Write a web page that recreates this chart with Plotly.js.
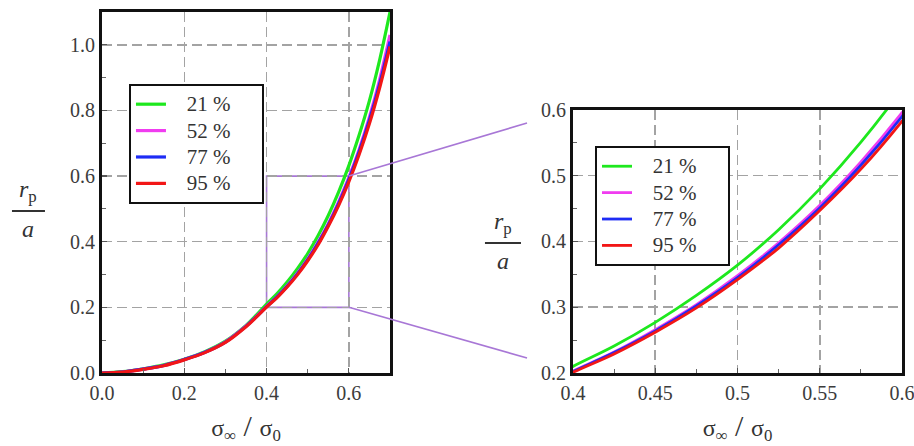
<!DOCTYPE html>
<html><head><meta charset="utf-8">
<script src="https://cdn.plot.ly/plotly-3.0.1.min.js"></script>
<style>html,body{margin:0;padding:0;background:#fff}#chart{width:914px;height:446px}</style>
</head><body><div id="chart"></div>
<script>
// ---- data ----
const xVals = [0, 0.05, 0.1, 0.15, 0.2, 0.25, 0.3, 0.35, 0.375, 0.4, 0.425, 0.45, 0.475, 0.5, 0.525, 0.55, 0.575, 0.6, 0.625, 0.65, 0.675, 0.7];
const y21 = [0, 0.004, 0.013, 0.025, 0.042, 0.065, 0.097, 0.145, 0.176, 0.210, 0.241, 0.277, 0.318, 0.364, 0.418, 0.480, 0.551, 0.632, 0.725, 0.830, 0.955, 1.100];
const y52 = [0, 0.003, 0.012, 0.023, 0.041, 0.063, 0.095, 0.143, 0.172, 0.203, 0.232, 0.266, 0.304, 0.348, 0.398, 0.455, 0.521, 0.596, 0.681, 0.780, 0.895, 1.030];
const y77 = [0, 0.003, 0.012, 0.023, 0.041, 0.063, 0.094, 0.142, 0.171, 0.202, 0.231, 0.264, 0.302, 0.345, 0.395, 0.451, 0.516, 0.590, 0.675, 0.771, 0.882, 1.010];
const y95 = [0, 0.003, 0.011, 0.022, 0.040, 0.062, 0.093, 0.141, 0.170, 0.201, 0.229, 0.262, 0.299, 0.342, 0.390, 0.447, 0.510, 0.583, 0.666, 0.760, 0.870, 0.995];
const seriesNames = ['21 %', '52 %', '77 %', '95 %'];
const seriesY = [y21, y52, y77, y95];
const seriesColors = ['#1ee81e', '#f03cf0', '#1e2cf5', '#f21616'];

const leftXTicks = [0, 0.2, 0.4, 0.6];
const leftYTicks = [0, 0.2, 0.4, 0.6, 0.8, 1.0];
const rightXTicks = [0.4, 0.45, 0.5, 0.55, 0.6];
const rightYTicks = [0.2, 0.3, 0.4, 0.5, 0.6];
const zoomBoxX = [0.4, 0.6];
const zoomBoxY = [0.2, 0.6];

// ---- layout constants ----
const SERIF = '"Liberation Serif", "Times New Roman", Times, serif';
const leftXRange = [0, 0.7], leftYRange = [0, 1.1];
const rightXRange = [0.4, 0.6], rightYRange = [0.2, 0.6];
const dX1 = [0.1116, 0.4267], dY1 = [0.1637, 0.9731];
const dX2 = [0.6269, 0.9869], dY2 = [0.1637, 0.7534];

function toPaper(v, range, dom) {
  return dom[0] + (v - range[0]) / (range[1] - range[0]) * (dom[1] - dom[0]);
}

function axis(range, dom, ticks, fmt, minorDtick, anchor, title) {
  const a = {
    range: range, domain: dom, anchor: anchor,
    tickmode: 'array', tickvals: ticks, tickformat: fmt,
    ticks: 'inside', ticklen: 5, tickwidth: 1.2, tickcolor: '#555',
    showline: true, linecolor: '#111', linewidth: 3, mirror: true,
    showgrid: true, gridcolor: '#a3a3a3', gridwidth: 1.5, griddash: '10px,5px',
    zeroline: false, fixedrange: true, ticklabeloverflow: 'allow',
    tickfont: {family: SERIF, size: 20, color: '#3c3c3c'},
    minor: {dtick: minorDtick, ticks: 'inside', ticklen: 4, tickcolor: '#666', showgrid: false}
  };
  if (title) a.title = title;
  return a;
}

const xTitle = {
  text: 'σ<sub>∞</sub><span style="font-size:30px"> / </span>σ<sub>0</sub>',
  font: {family: SERIF, size: 24, color: '#333'}, standoff: 17
};

const NB = '\u00a0';
const traces = [];
seriesNames.forEach((name, i) => {
  const label = '<span style="font-size:21px">' + NB + NB + NB + name + NB + NB + NB + NB + NB + '</span>';
  traces.push({x: xVals, y: seriesY[i], xaxis: 'x', yaxis: 'y', type: 'scatter', mode: 'lines',
    name: label, line: {color: seriesColors[i], width: 3.2, shape: 'spline'}, legend: 'legend'});
  traces.push({x: xVals, y: seriesY[i], xaxis: 'x2', yaxis: 'y2', type: 'scatter', mode: 'lines',
    name: label, line: {color: seriesColors[i], width: 2.8, shape: 'spline'}, legend: 'legend2'});
});

const legendBase = {
  xanchor: 'left', yanchor: 'top', bordercolor: '#111', borderwidth: 2, bgcolor: '#fff',
  font: {family: SERIF, size: 18, color: '#333'}, traceorder: 'normal'
};

const purple = '#a877d6';
const shapes = [
  {type: 'rect', xref: 'x', yref: 'y', x0: zoomBoxX[0], x1: zoomBoxX[1], y0: zoomBoxY[0], y1: zoomBoxY[1],
   line: {color: purple, width: 1.6}, layer: 'below'},
  {type: 'line', xref: 'paper', yref: 'paper',
   x0: toPaper(zoomBoxX[1], leftXRange, dX1), y0: toPaper(zoomBoxY[1], leftYRange, dY1),
   x1: 0.5766, y1: 0.7242, line: {color: purple, width: 1.6}},
  {type: 'line', xref: 'paper', yref: 'paper',
   x0: toPaper(zoomBoxX[1], leftXRange, dX1), y0: toPaper(zoomBoxY[0], leftYRange, dY1),
   x1: 0.5766, y1: 0.1973, line: {color: purple, width: 1.6}},
  // fraction bars of the y titles
  {type: 'line', xref: 'paper', yref: 'paper', x0: 0.0131, x1: 0.0492, y0: 0.5269, y1: 0.5269,
   line: {color: '#333', width: 2}},
  {type: 'line', xref: 'paper', yref: 'paper', x0: 0.5306, x1: 0.5700, y0: 0.4552, y1: 0.4552,
   line: {color: '#333', width: 2}}
];

const fracFont = {family: SERIF, size: 24, color: '#333'};
const annotations = [
  {xref: 'paper', yref: 'paper', x: 0.0311, y: 0.5329, xanchor: 'center', yanchor: 'bottom', showarrow: false,
   text: '<i>r</i><sub>p</sub>', font: fracFont},
  {xref: 'paper', yref: 'paper', x: 0.0311, y: 0.5209, xanchor: 'center', yanchor: 'top', showarrow: false,
   text: '<i>a</i>', font: fracFont},
  {xref: 'paper', yref: 'paper', x: 0.5503, y: 0.4612, xanchor: 'center', yanchor: 'bottom', showarrow: false,
   text: '<i>r</i><sub>p</sub>', font: fracFont},
  {xref: 'paper', yref: 'paper', x: 0.5503, y: 0.4492, xanchor: 'center', yanchor: 'top', showarrow: false,
   text: '<i>a</i>', font: fracFont}
];

const layout = {
  width: 914, height: 446,
  margin: {l: 0, r: 0, t: 0, b: 0},
  paper_bgcolor: '#fff', plot_bgcolor: '#fff',
  font: {family: SERIF, color: '#333'},
  showlegend: true,
  xaxis: axis(leftXRange, dX1, leftXTicks, '.1f', 0.1, 'y', xTitle),
  yaxis: axis(leftYRange, dY1, leftYTicks, '.1f', 0.1, 'x'),
  xaxis2: axis(rightXRange, dX2, rightXTicks, '', 0.025, 'y2', xTitle),
  yaxis2: axis(rightYRange, dY2, rightYTicks, '.1f', 0.05, 'x2'),
  legend: Object.assign({x: 0.1411, y: 0.8117}, legendBase),
  legend2: Object.assign({x: 0.651, y: 0.6726}, legendBase),
  shapes: shapes,
  annotations: annotations
};

Plotly.newPlot('chart', traces, layout, {displayModeBar: false, staticPlot: true});
</script>
</body></html>
